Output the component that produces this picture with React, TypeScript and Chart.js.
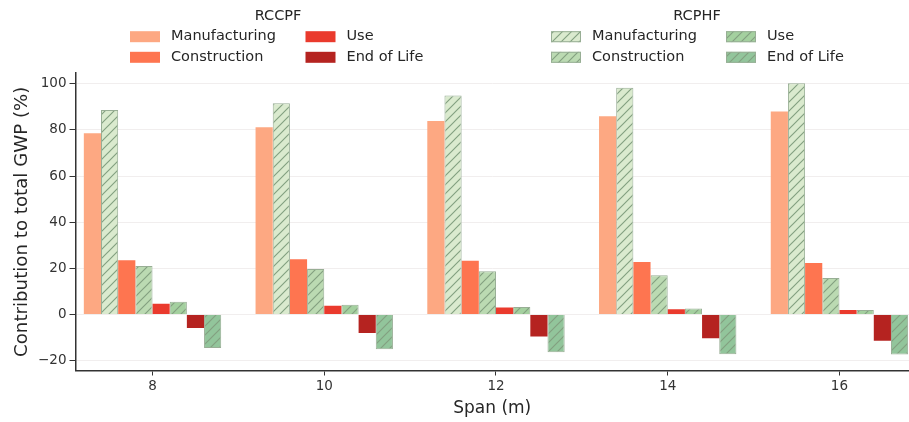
import React, { useEffect, useRef } from 'react';
import { Chart, registerables } from 'chart.js';

Chart.register(...registerables);

// Spans (m) on the x axis
const spans = [8, 10, 12, 14, 16];

// Contribution to total GWP (%) per life-cycle stage
const rccpfManufacturing = [78.6, 81.2, 83.9, 86.0, 88.0];
const rccpfConstruction = [23.5, 23.9, 23.3, 22.8, 22.3];
const rccpfUse = [4.6, 3.8, 3.0, 2.3, 1.9];
const rccpfEndOfLife = [-5.9, -8.0, -9.6, -10.3, -11.4];

const rcphfManufacturing = [88.7, 91.6, 94.9, 98.3, 100.3];
const rcphfConstruction = [21.0, 19.7, 18.7, 17.0, 15.8];
const rcphfUse = [5.5, 4.2, 3.2, 2.6, 1.9];
const rcphfEndOfLife = [-14.5, -15.1, -16.4, -17.2, -17.4];

const stageLabels = ['Manufacturing', 'Construction', 'Use', 'End of Life'];
const systemTitles = ['RCCPF', 'RCPHF'];

const FONT = "'DejaVu Sans', 'Liberation Sans', sans-serif";
const TEXT = '#262626';

const redFills = ['#fda882', '#fe7550', '#ea3a2d', '#b52320'];
const greenFills = ['#daeace', '#bbdab2', '#a4d09f', '#92c59b'];
const hatchLine = '#83a080';
const greenEdge = '#98ae95';

function hatch(bg: string, line: string): CanvasPattern {
  const s = 9;
  const c = document.createElement('canvas');
  c.width = s;
  c.height = s;
  const g = c.getContext('2d')!;
  g.fillStyle = bg;
  g.fillRect(0, 0, s, s);
  g.strokeStyle = line;
  g.lineWidth = 1.15;
  g.beginPath();
  g.moveTo(-1, s + 1);
  g.lineTo(s + 1, -1);
  g.moveTo(-1, 1);
  g.lineTo(1, -1);
  g.moveTo(s - 1, s + 1);
  g.lineTo(s + 1, s - 1);
  g.stroke();
  return g.createPattern(c, 'repeat')!;
}

const toPoints = (vals: number[]) => spans.map((x, i) => ({ x, y: vals[i] }));

export default function App() {
  const ref = useRef<HTMLCanvasElement>(null);

  useEffect(() => {
    const canvas = ref.current!;
    const greenPatterns = greenFills.map((c) => hatch(c, hatchLine));

    const red = [rccpfManufacturing, rccpfConstruction, rccpfUse, rccpfEndOfLife];
    const green = [rcphfManufacturing, rcphfConstruction, rcphfUse, rcphfEndOfLife];

    const datasets: any[] = [];
    stageLabels.forEach((label, k) => {
      datasets.push({
        label: `${systemTitles[0]} ${label}`,
        data: toPoints(red[k]),
        backgroundColor: redFills[k],
        borderWidth: 0,
      });
      datasets.push({
        label: `${systemTitles[1]} ${label}`,
        data: toPoints(green[k]),
        backgroundColor: greenPatterns[k],
        borderColor: greenEdge,
        borderWidth: 1,
      });
    });

    // Two titled legend blocks, 2 columns x 2 rows each
    const legendBlocks = [
      { title: systemTitles[0], titleX: 278, cols: [130, 305.5], fills: redFills as (string | CanvasPattern)[], edge: null as string | null },
      { title: systemTitles[1], titleX: 697, cols: [551, 726], fills: greenPatterns as (string | CanvasPattern)[], edge: greenEdge },
    ];

    const legendPlugin = {
      id: 'twoLegends',
      afterDraw(chart: Chart) {
        const ctx = chart.ctx;
        ctx.save();
        ctx.font = `14.5px ${FONT}`;
        ctx.fillStyle = TEXT;
        ctx.textBaseline = 'middle';
        const rows = [36.7, 57.3];
        legendBlocks.forEach((b) => {
          ctx.textAlign = 'center';
          ctx.fillStyle = TEXT;
          ctx.fillText(b.title, b.titleX, 16);
          ctx.textAlign = 'left';
          stageLabels.forEach((label, k) => {
            const col = Math.floor(k / 2);
            const row = k % 2;
            const x = b.cols[col];
            const y = rows[row];
            ctx.fillStyle = b.fills[k] as any;
            ctx.fillRect(x, y - 5.5, 30, 11);
            if (b.edge) {
              ctx.strokeStyle = b.edge;
              ctx.lineWidth = 1;
              ctx.strokeRect(x + 0.5, y - 5, 29, 10);
            }
            ctx.fillStyle = TEXT;
            ctx.fillText(label, x + 41, y);
          });
        });
        ctx.restore();
      },
    };

    const chart = new Chart(canvas, {
      type: 'bar',
      data: { datasets },
      plugins: [legendPlugin],
      options: {
        responsive: false,
        animation: false,
        layout: { padding: { top: 73, left: 0, right: 0, bottom: 0 } },
        datasets: { bar: { categoryPercentage: 0.8, barPercentage: 1.0 } },
        plugins: { legend: { display: false }, tooltip: { enabled: false } },
        scales: {
          x: {
            type: 'linear',
            min: 7.103,
            max: 16.81,
            offset: false,
            afterFit: (s: any) => {
              s.height = 51.5;
            },
            ticks: {
              stepSize: 2,
              includeBounds: false,
              color: '#333',
              padding: 3,
              font: { family: FONT, size: 13.5 },
              callback: (v: any) => String(v),
            },
            grid: {
              offset: false,
              drawOnChartArea: false,
              drawTicks: true,
              tickLength: 5,
              tickColor: '#333',
            },
            border: { display: true, color: '#333', width: 1.5 },
            title: {
              display: true,
              text: 'Span (m)',
              color: TEXT,
              font: { family: FONT, size: 17 },
              padding: { top: 0, bottom: 3 },
            },
          },
          y: {
            min: -24.3,
            max: 104.7,
            afterFit: (s: any) => {
              s.width = 75.5;
            },
            ticks: {
              stepSize: 20,
              includeBounds: false,
              color: '#333',
              padding: 3,
              font: { family: FONT, size: 13.5 },
              callback: (v: any) => (v < 0 ? '\u2212' + Math.abs(v) : String(v)),
            },
            grid: {
              color: '#f1eeee',
              lineWidth: 1,
              drawTicks: true,
              tickLength: 6,
              tickColor: '#333',
            },
            border: { display: true, color: '#333', width: 1.5 },
            title: {
              display: true,
              text: 'Contribution to total GWP (%)',
              color: TEXT,
              font: { family: FONT, size: 18.2 },
              padding: { top: 11, bottom: 0 },
            },
          },
        },
      } as any,
    });

    return () => chart.destroy();
  }, []);

  return (
    <div style={{ position: 'fixed', left: 0, top: 0, width: 909, height: 422, background: '#fff', overflow: 'hidden' }}>
      <canvas ref={ref} width={909} height={422} style={{ display: 'block' }} />
    </div>
  );
}
